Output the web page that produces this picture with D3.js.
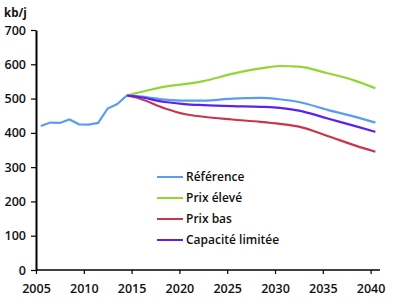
<!DOCTYPE html>
<html><head><meta charset="utf-8">
<script src="https://cdn.jsdelivr.net/npm/d3@7"></script>
<style>body{margin:0;background:#fff}svg{display:block}text{font-family:"Open Sans",sans-serif}</style>
</head><body><svg id="c" width="398" height="307"></svg>
<script>
const histYears = [2005,2006,2007,2008,2009,2010,2011,2012,2013,2014];
const histValues = [420,430,429,439,425,424,429,471,484,509];
const projYears = [2014,2015,2018,2020,2022,2025,2028,2030,2032,2035,2038,2040];
const reference = [509,507,497,494,494,500,502,498,490,467,446,430];
const highPrice = [509,516,535,542,551,572,588,595,593,574,551,530];
const lowPrice  = [509,503,471,455,447,439,432,426,418,391,362,345];
const limitedCap= [509,506,490,484,481,478,476,473,465,442,419,403];
const seriesNames = ["Référence","Prix élevé","Prix bas","Capacité limitée"];
const seriesColors = ["#5a9cf2","#92d636","#c8354f","#5a22f0"];
const xTicks = [2005,2010,2015,2020,2025,2030,2035,2040];
const yTicks = [0,100,200,300,400,500,600,700];

const svg = d3.select("#c");
const x = d3.scaleLinear().domain([2005,2040]).range([36,370.6]);
const y = d3.scaleLinear().domain([0,700]).range([270,30]);
const px = yr => x(yr+0.5);

const line = d3.line().x(d=>px(d[0])).y(d=>y(d[1])).curve(d3.curveMonotoneX);
const histLine = d3.line().x(d=>px(d[0])).y(d=>y(d[1]));

const proj = [reference, highPrice, lowPrice, limitedCap];
// draw order: high, reference, low, limited on top
[1,0,2,3].forEach(i=>{
  svg.append("path").attr("d", line(projYears.map((yr,j)=>[yr,proj[i][j]])))
    .attr("fill","none").attr("stroke",seriesColors[i]).attr("stroke-width",2.2);
});
svg.append("path").attr("d", histLine(histYears.map((yr,j)=>[yr,histValues[j]])))
  .attr("fill","none").attr("stroke",seriesColors[0]).attr("stroke-width",2.2);

// axes
const xa = svg.append("g").attr("transform","translate(0,270)")
  .call(d3.axisBottom(x).tickValues(xTicks).tickFormat(d3.format("d")).tickSize(4).tickSizeOuter(0));
xa.select(".domain").attr("d","M36,0H380").attr("stroke","#000").attr("stroke-width",1.6);
xa.selectAll(".tick line").attr("stroke","#000").attr("stroke-width",1.2);
xa.selectAll(".tick text").attr("font-size",12.5).attr("font-weight",600).attr("fill","#111").attr("dy","1.3em").attr("font-family","Open Sans");

const ya = svg.append("g").attr("transform","translate(36,0)")
  .call(d3.axisLeft(y).tickValues(yTicks).tickSize(5).tickSizeOuter(0));
ya.select(".domain").attr("stroke","#000").attr("stroke-width",2);
ya.selectAll(".tick line").attr("stroke","#000").attr("stroke-width",1.2);
ya.selectAll(".tick text").attr("font-size",12.5).attr("font-weight",600).attr("fill","#111").attr("x",-10).attr("font-family","Open Sans");

svg.append("text").attr("x",4).attr("y",17).attr("font-size",11.5).attr("font-weight",700).attr("fill","#111").text("kb/j");

// legend
const lg = svg.append("g");
seriesNames.forEach((n,i)=>{
  const yy = 177 + i*21;
  lg.append("line").attr("x1",157).attr("x2",183).attr("y1",yy).attr("y2",yy)
    .attr("stroke",seriesColors[i]).attr("stroke-width",2);
  lg.append("text").attr("x",186).attr("y",yy).attr("dy","0.35em")
    .attr("font-size",12).attr("font-weight",600).attr("fill","#111").text(n);
});
</script></body></html>
